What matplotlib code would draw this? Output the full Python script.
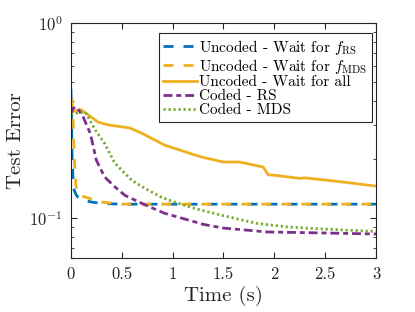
import numpy as np
import matplotlib
matplotlib.use("Agg")
import matplotlib.pyplot as plt
from matplotlib.lines import Line2D

plt.rcParams['font.family'] = 'serif'
plt.rcParams['font.serif'] = ['cmr10']
plt.rcParams['mathtext.fontset'] = 'cm'
plt.rcParams['axes.formatter.use_mathtext'] = True
plt.rcParams['axes.unicode_minus'] = False

# data
t_rs = [0, 0.005, 0.01, 0.02, 0.03, 0.05, 0.07, 0.1, 0.2, 0.3, 0.5, 1, 3]
err_rs = [0.46, 0.35, 0.22, 0.16, 0.14, 0.132, 0.128, 0.125, 0.121, 0.119, 0.118, 0.118, 0.118]

t_mds = [0, 0.01, 0.02, 0.03, 0.04, 0.05, 0.07, 0.1, 0.17, 0.3, 0.5, 1, 3]
err_mds = [0.46, 0.42, 0.33, 0.22, 0.17, 0.145, 0.135, 0.13, 0.127, 0.121, 0.118, 0.118, 0.118]

t_all = [0, 0.05, 0.1, 0.27, 0.38, 0.5, 0.58, 0.7, 0.92, 1.17, 1.28, 1.5, 1.66,
         1.89, 1.94, 2.0, 2.25, 2.3, 2.64, 3.0]
err_all = [0.35, 0.355, 0.36, 0.31, 0.30, 0.294, 0.29, 0.272, 0.237, 0.215, 0.206,
           0.194, 0.194, 0.183, 0.167, 0.166, 0.160, 0.161, 0.154, 0.146]

t_crs = [0, 0.02, 0.06, 0.12, 0.19, 0.25, 0.33, 0.43, 0.53, 0.73, 0.92, 1.15,
         1.3, 1.5, 1.93, 2.48, 3.0]
err_crs = [0.34, 0.366, 0.37, 0.33, 0.272, 0.198, 0.163, 0.145, 0.131, 0.117,
           0.106, 0.098, 0.093, 0.089, 0.085, 0.084, 0.083]

t_cmds = [0, 0.04, 0.14, 0.24, 0.33, 0.43, 0.6, 0.73, 0.89, 1.02, 1.17, 1.28,
          1.5, 1.83, 2.15, 2.48, 3.0]
err_cmds = [0.34, 0.345, 0.35, 0.283, 0.242, 0.192, 0.156, 0.142, 0.128, 0.121,
            0.114, 0.110, 0.103, 0.094, 0.090, 0.088, 0.0855]

labels = [r'Uncoded - Wait for $f_{\mathrm{RS}}$',
          r'Uncoded - Wait for $f_{\mathrm{MDS}}$',
          'Uncoded - Wait for all', 'Coded - RS', 'Coded - MDS']

blue = '#0072BD'
yellow = '#EDB120'
purple = '#7E2F8E'
green = '#77AC30'
dash = (3.6, 3.6)
dashdot = (3.2, 1.4, 1.8, 1.4)
dot = (0.8, 1.0)

fig = plt.figure(figsize=(4.15, 3.12), dpi=100)
ax = fig.add_axes([0.171, 0.173, 0.735, 0.753])

ax.plot(t_rs, err_rs, color=blue, lw=2, linestyle=(0, dash))
# yellow dashes shifted so they alternate with the blue ones where they overlap
ax.plot(t_mds, err_mds, color=yellow, lw=2, linestyle=(3.6, dash))
ax.plot(t_all, err_all, color=yellow, lw=2)
ax.plot(t_crs, err_crs, color=purple, lw=2, linestyle=(0, dashdot))
ax.plot(t_cmds, err_cmds, color=green, lw=2, linestyle=(0, dot))

handles = [Line2D([], [], color=blue, lw=2, linestyle=(0, dash)),
           Line2D([], [], color=yellow, lw=2, linestyle=(0, dash)),
           Line2D([], [], color=yellow, lw=2),
           Line2D([], [], color=purple, lw=2, linestyle=(0, dashdot)),
           Line2D([], [], color=green, lw=2, linestyle=(0, dot))]

ax.set_yscale('log')
ax.set_xlim(0, 3)
ax.set_ylim(0.0625, 1)
ax.set_xticks([0, 0.5, 1, 1.5, 2, 2.5, 3])
ax.set_xticklabels(['0', '0.5', '1', '1.5', '2', '2.5', '3'])
ax.tick_params(which='both', direction='in', top=True, right=True,
               colors='#262626', labelsize=12)
ax.tick_params(which='major', length=4, pad=6)
ax.tick_params(which='minor', length=2.5)
for s in ax.spines.values():
    s.set_color('#262626')
    s.set_linewidth(0.8)

ax.set_xlabel('Time (s)', fontsize=15, color='#262626', labelpad=3)
ax.set_ylabel('Test Error', fontsize=15, color='#262626', labelpad=3)

leg = ax.legend(handles, labels, loc='upper right', bbox_to_anchor=(0.987, 0.957),
                borderaxespad=0, fontsize=11, handlelength=2.2, handletextpad=0.15,
                labelspacing=0.0, fancybox=False, framealpha=1, borderpad=0.3)
leg.get_frame().set_edgecolor('#262626')
leg.get_frame().set_linewidth(0.8)

fig.savefig('out.png', dpi=100)
